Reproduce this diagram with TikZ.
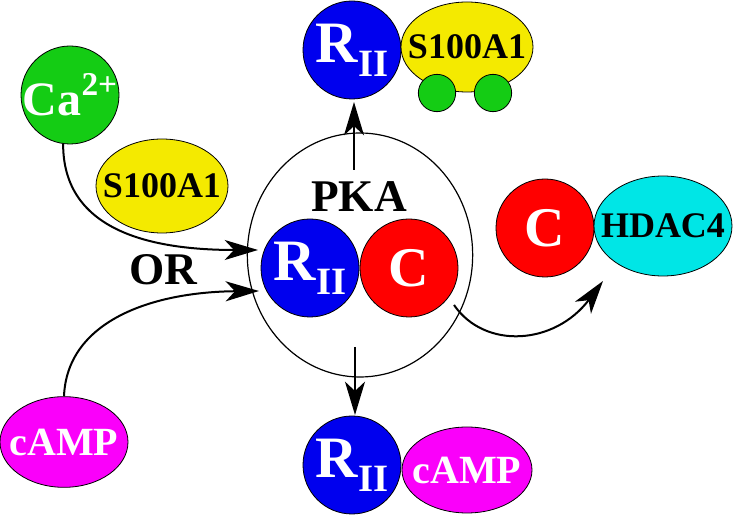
\documentclass[tikz,border=0pt]{standalone}
\usepackage{fontspec}
\setmainfont{Liberation Serif}
\usetikzlibrary{shapes.geometric,arrows.meta}
\definecolor{myblue}{RGB}{0,0,238}
\definecolor{myred}{RGB}{255,0,0}
\definecolor{mygreen}{RGB}{20,204,20}
\definecolor{myyellow}{RGB}{244,234,0}
\definecolor{mycyan}{RGB}{0,230,230}
\definecolor{mymagenta}{RGB}{250,0,250}
\newcommand{\zw}[1]{\makebox[0pt]{#1}}
\newcommand{\myRII}{\zw{{\fontsize{44}{44}\selectfont R}\raisebox{-10.5pt}{\fontsize{29}{29}\selectfont II}}}
\newcommand{\myCa}{\zw{{\fontsize{36}{36}\selectfont Ca}\raisebox{15pt}{\fontsize{25}{25}\selectfont 2+}}}
\tikzset{
  mol/.style={draw=black, line width=0.6pt, inner sep=0pt, font=\bfseries},
  circ/.style={mol, circle, minimum size=73.5pt},
  bluec/.style={circ, fill=myblue, text=white},
  redc/.style={circ, fill=myred, text=white, font=\bfseries\fontsize{42}{42}\selectfont},
  greenc/.style={circ, fill=mygreen, text=white},
  smallg/.style={mol, circle, fill=mygreen, minimum size=28pt},
  ell/.style={mol, ellipse},
  yell/.style={ell, fill=myyellow, text=black, font=\bfseries\fontsize{27}{27}\selectfont},
  magell/.style={ell, fill=mymagenta, text=white, font=\bfseries\fontsize{30}{30}\selectfont},
  cyanell/.style={ell, fill=mycyan, text=black, font=\bfseries\fontsize{27}{27}\selectfont},
  pkaell/.style={draw=black, line width=0.9pt, ellipse, inner sep=0pt, minimum width=169pt, minimum height=183pt},
  lbl/.style={inner sep=0pt, text=black, font=\bfseries\fontsize{34}{34}\selectfont},
  arr/.style={line width=1.5pt, -{Stealth[length=25pt,width=15pt,inset=7pt]}}
}
\begin{document}
\begin{tikzpicture}[x=0.75pt,y=-0.75pt]
\useasboundingbox (0,0) rectangle (733,516);
% PKA complex
\node[pkaell] (pka) at (360,255) {};
\node[lbl] (pkalbl) at (359,197) {PKA};
\node[bluec] (rmid) at (310,268) {\myRII};
\node[redc] (cmid) at (409,268) {\zw{C}};
% top R_II + S100A1
\node[bluec] (rtop) at (352,50) {\myRII};
\node[yell, minimum width=99pt, minimum height=67.5pt] (stop) at (467,47) {\zw{S100A1}};
\node[smallg] (g1) at (437,93) {};
\node[smallg] (g2) at (493,93) {};
% left side
\node[greenc] (ca) at (70,95) {\myCa};
\node[yell, minimum width=99pt, minimum height=70.5pt] (sleft) at (162,186) {\zw{S100A1}};
\node[lbl] (orlbl) at (163,270) {OR};
\node[magell, minimum width=96pt, minimum height=68pt] (campl) at (64,442) {\zw{cAMP}};
% bottom R_II + cAMP
\node[bluec] (rbot) at (352,465) {\myRII};
\node[magell, minimum width=97.5pt, minimum height=64.5pt] (campb) at (467,470) {\zw{cAMP}};
% right C + HDAC4
\node[redc] (cright) at (545,228) {\zw{C}};
\node[cyanell, minimum width=103.5pt, minimum height=75pt] (hdac) at (663,226) {\zw{HDAC4}};
% free connector ends
\coordinate (t1) at (258,250);
\coordinate (t2) at (259,291);
\coordinate (s3) at (354,170);
\coordinate (t3) at (354,102);
\coordinate (s4) at (355,347);
\coordinate (t4) at (355,415);
\coordinate (s5) at (454,305);
\coordinate (t5) at (603,281);
% connectors
\draw[arr] (ca.-98) .. controls (63,228) and (145,250) .. (t1);
\draw[arr] (campl.north) .. controls (67,322) and (150,292) .. (t2);
\draw[arr] (s3) -- (t3);
\draw[arr] (s4) -- (t4);
\draw[arr] (s5) .. controls (485,350) and (555,345) .. (t5);
\end{tikzpicture}
\end{document}
